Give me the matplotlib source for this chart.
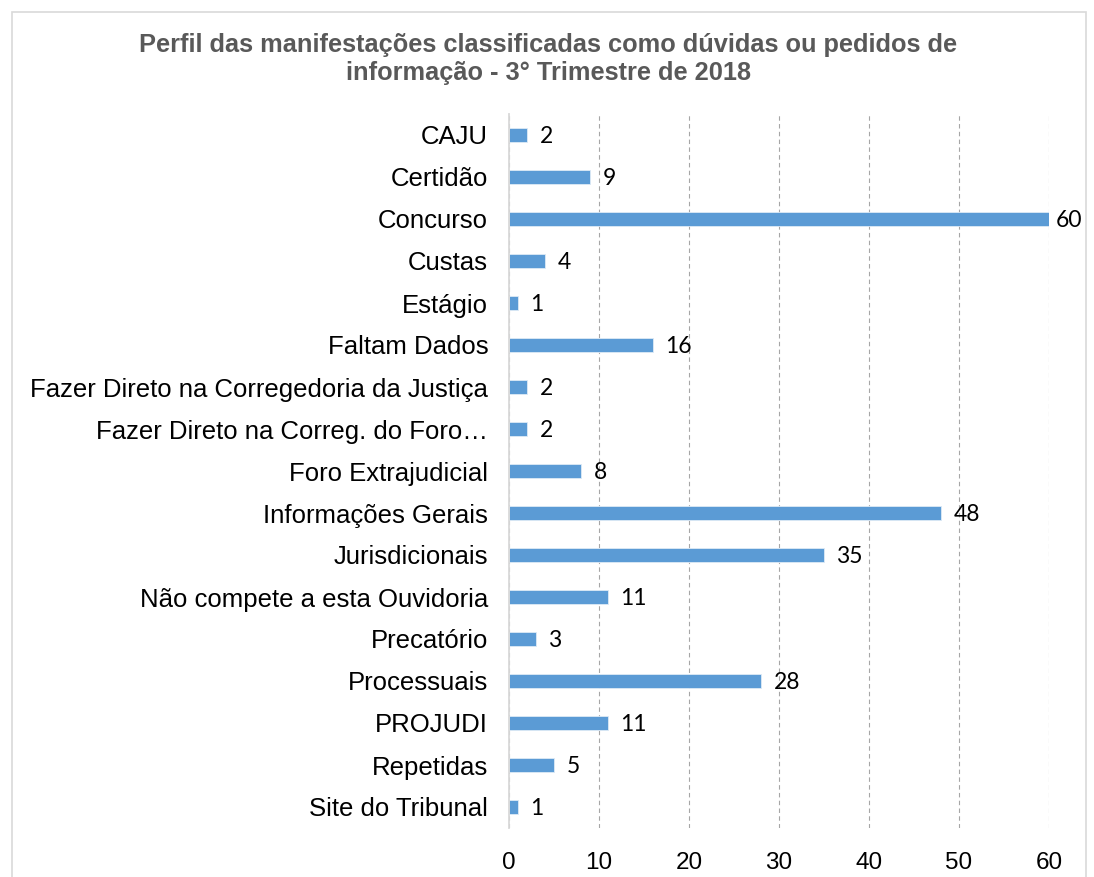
import matplotlib
matplotlib.use("Agg")
import matplotlib.pyplot as plt
from matplotlib.patches import Rectangle

categories = [
    "CAJU", "Certidão", "Concurso", "Custas", "Estágio", "Faltam Dados",
    "Fazer Direto na Corregedoria da Justiça", "Fazer Direto na Correg. do Foro…",
    "Foro Extrajudicial", "Informações Gerais", "Jurisdicionais",
    "Não compete a esta Ouvidoria", "Precatório", "Processuais", "PROJUDI",
    "Repetidas", "Site do Tribunal",
]
values = [2, 9, 60, 4, 1, 16, 2, 2, 8, 48, 35, 11, 3, 28, 11, 5, 1]
xticks = [0, 10, 20, 30, 40, 50, 60]
title = "Perfil das manifestações classificadas como dúvidas ou pedidos de\ninformação - 3° Trimestre de 2018"

W, H = 1094, 877
fig = plt.figure(figsize=(W / 100, H / 100), dpi=100)
fig.patch.set_facecolor("white")

# outer chart border
fig.patches.append(Rectangle((12 / W, -0.02), (1086 - 12) / W, 1 - 12 / H + 0.02,
                             transform=fig.transFigure, fill=False,
                             edgecolor="#D9D9D9", linewidth=1.2))

ax = fig.add_axes([509 / W, 1 - 828 / H, (1049 - 509) / W, (828 - 114) / H])
ypos = list(range(len(categories)))
ax.barh(ypos, values, height=0.35, color="#5B9BD5", edgecolor="#DEEAF6",
        linewidth=0.6, zorder=3)
ax.set_ylim(len(categories) - 0.5, -0.5)
ax.set_xlim(xticks[0], xticks[-1])
ax.set_xticks(xticks)
ax.set_yticks(ypos)
ax.set_yticklabels(categories, fontfamily="Liberation Sans", fontsize=18.5, color="#000000")
ax.set_xticklabels([str(t) for t in xticks], fontfamily="Liberation Sans", fontsize=17.5, color="#000000")
ax.tick_params(axis="y", length=0, pad=15)
ax.tick_params(axis="x", length=0, pad=17)

for s in ["top", "right", "bottom"]:
    ax.spines[s].set_visible(False)
ax.spines["left"].set_color("#D9D9D9")
ax.spines["left"].set_linewidth(1.3)
ax.spines["left"].set_zorder(4)
ax.xaxis.grid(True, linestyle=(0, (4, 3)), color="#A6A6A6", linewidth=0.8, zorder=0)
ax.set_axisbelow(True)

xmax = xticks[-1]
for y, v in zip(ypos, values):
    off = 5 if v >= xmax else 9
    ax.annotate(str(v), xy=(v, y), xytext=(off, -1), textcoords="offset points",
                ha="left", va="center", fontfamily="Lato", fontsize=16.5,
                color="#000000", annotation_clip=False)

fig.text(548 / W, 1 - 59 / H, title, ha="center", va="center", multialignment="center",
         fontfamily="Liberation Sans", fontweight="bold", fontsize=18.3,
         color="#595959", linespacing=1.17)

fig.savefig("out.png", dpi=100, facecolor="white")
